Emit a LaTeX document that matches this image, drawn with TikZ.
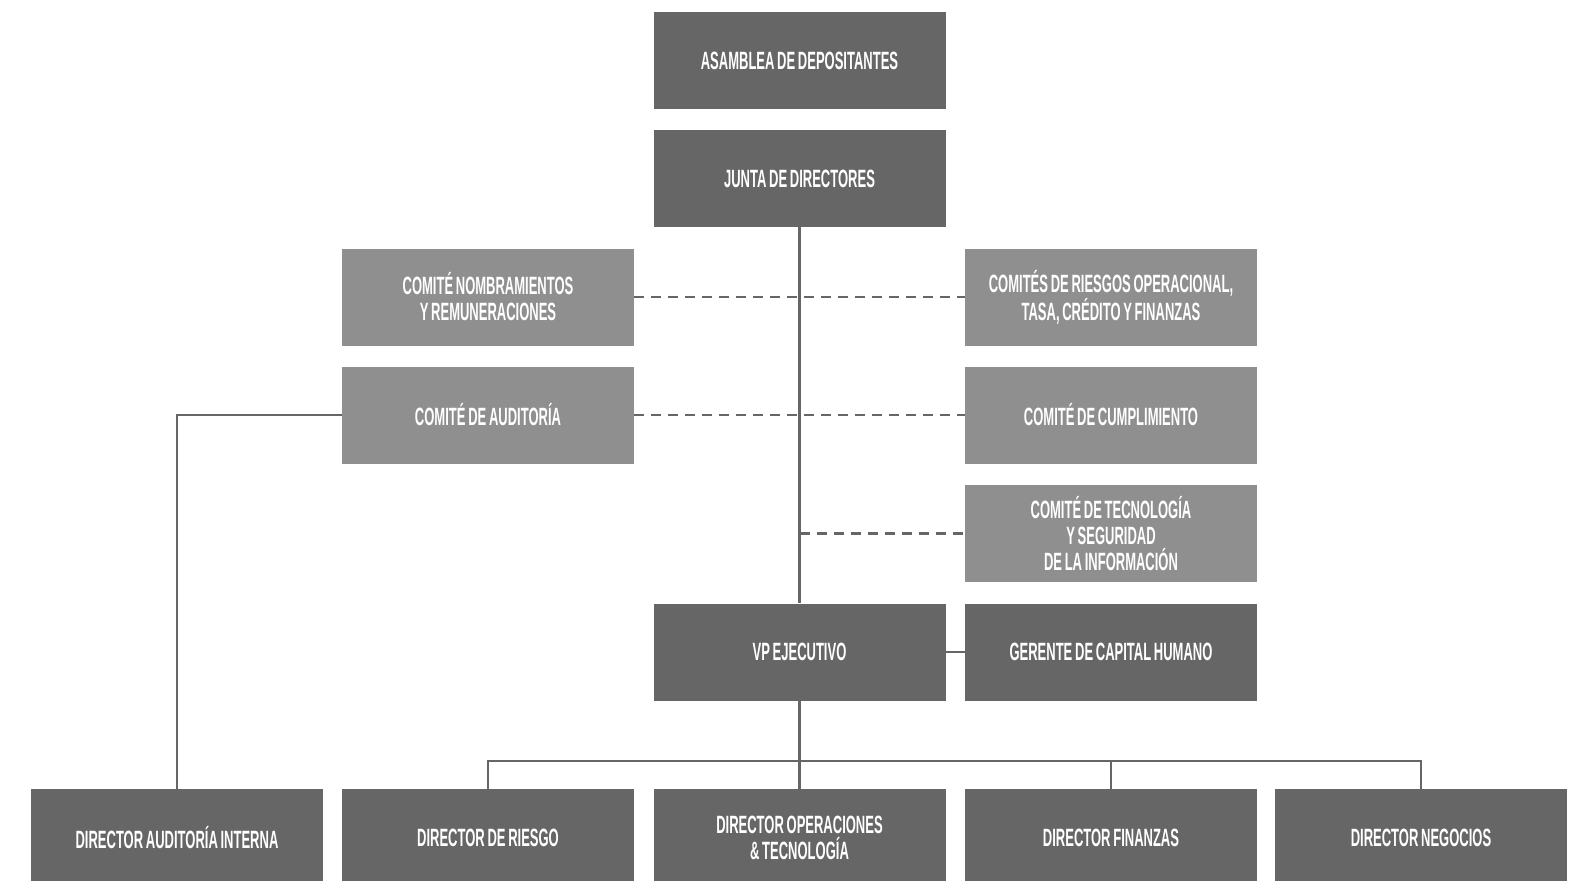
\documentclass[tikz,border=0pt]{standalone}
\usepackage{fontspec}
\newfontfamily\orgfont[FakeStretch=0.52,WordSpace=0.75]{Liberation Sans}
\usetikzlibrary{positioning}
\definecolor{orgdark}{HTML}{666666}
\definecolor{orglight}{HTML}{8F8F8F}
\definecolor{orgink}{HTML}{666666}
\tikzset{
  orgbox/.style={fill=orgdark,draw=none,minimum width=146pt,minimum height=48.5pt,
    inner sep=0pt,align=center,text=white,
    font=\orgfont\bfseries\fontsize{12.5pt}{13pt}\selectfont},
  orglightbox/.style={orgbox,fill=orglight},
  orgline/.style={draw=orgink,line width=1.2pt},
  orgdash/.style={draw=orgink,line width=1.2pt,dash pattern=on 5pt off 3.5pt},
}
\begin{document}
\begin{tikzpicture}[x=0.5pt,y=-0.5pt]
  \path[use as bounding box] (0,0) rectangle (1579,880);
  % upper boxes
  \node[orgbox] (asamblea) at (799.5,60.5) {ASAMBLEA DE DEPOSITANTES};
  \node[orgbox] (junta) at (799.5,178.5) {JUNTA DE DIRECTORES};
  \node[orglightbox] (nombra) at (488,297) {COMITÉ NOMBRAMIENTOS\\Y REMUNERACIONES};
  \node[orglightbox] (audcom) at (488,415) {COMITÉ DE AUDITORÍA};
  \node[orglightbox] (riescom) at (1111,297) {COMITÉS DE RIESGOS OPERACIONAL,\\TASA, CRÉDITO Y FINANZAS};
  \node[orglightbox] (cumple) at (1111,415) {COMITÉ DE CUMPLIMIENTO};
  \node[orglightbox] (tecno) at (1111,533.5) {COMITÉ DE TECNOLOGÍA\\Y SEGURIDAD\\DE LA INFORMACIÓN};
  \node[orgbox] (vp) at (799.5,652) {VP EJECUTIVO};
  \node[orgbox] (gerente) at (1111,652) {GERENTE DE CAPITAL HUMANO};
  % directors
  \foreach \n/\x/\t in {auditor/177/DIRECTOR AUDITORÍA INTERNA,
      riesgo/488/DIRECTOR DE RIESGO,
      opera/799.5/{DIRECTOR OPERACIONES\\\& TECNOLOGÍA},
      finanzas/1111/DIRECTOR FINANZAS,
      negocios/1421/DIRECTOR NEGOCIOS}
    {\node[orgbox] (\n) at (\x,837.5) {\t};}
  % connectors
  \draw[orgline] (junta.south) -- (vp.north);
  \draw[orgdash] (nombra.east) -- (riescom.west);
  \draw[orgdash] (audcom.east) -- (cumple.west);
  \draw[orgdash] (junta.south |- tecno.west) -- (tecno.west);
  \draw[orgline] (audcom.west) -| (auditor.north);
  \draw[orgline] (vp.east) -- (gerente.west);
  \coordinate (bus) at (799.5,761);
  \draw[orgline] (vp.south) -- (opera.north);
  \foreach \n in {riesgo,finanzas,negocios}
    {\draw[orgline] (bus) -| (\n.north);}
\end{tikzpicture}
\end{document}
